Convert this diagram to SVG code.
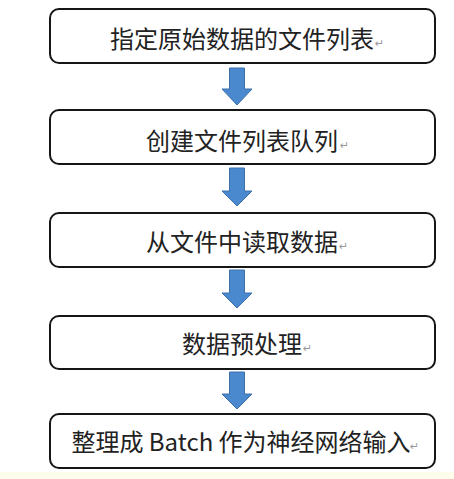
<svg xmlns="http://www.w3.org/2000/svg" width="454" height="479" viewBox="0 0 454 479">
  <style>
    .box { fill: #ffffff; stroke: #161616; stroke-width: 2; }
    .lbl { font-family: "Noto Sans CJK SC", "Noto Sans", sans-serif; font-size: 24px; fill: #222222; text-anchor: middle; }
    .mark { font-family: "DejaVu Sans", sans-serif; font-size: 11px; fill: #9a9a9a; }
    .arrow { fill: #4a89cd; stroke: #3b70ad; stroke-width: 1; }
  </style>
  <rect x="0" y="0" width="454" height="479" fill="#ffffff"/>
  <rect x="0" y="472" width="454" height="7" fill="#fffdeb"/>
  <g id="connectors">
    <path class="arrow" d="M229.5,68 H244.5 V89 H252 L237,105 L222,89 H229.5 Z"/>
    <path class="arrow" d="M229.5,168 H244.5 V191 H252 L237,206 L222,191 H229.5 Z"/>
    <path class="arrow" d="M229.5,270 H244.5 V293 H252 L237,308 L222,293 H229.5 Z"/>
    <path class="arrow" d="M229.5,372 H244.5 V394 H252 L237,409 L222,394 H229.5 Z"/>
  </g>
  <g id="node1">
    <rect class="box" x="50" y="9" width="385" height="54" rx="9"/>
    <text class="lbl" x="242" y="48">指定原始数据的文件列表</text>
    <text class="mark" x="375" y="47">↵</text>
  </g>
  <g id="node2">
    <rect class="box" x="50" y="110" width="385" height="54" rx="9"/>
    <text class="lbl" x="242" y="150">创建文件列表队列</text>
    <text class="mark" x="340" y="149">↵</text>
  </g>
  <g id="node3">
    <rect class="box" x="50" y="213" width="385" height="54" rx="9"/>
    <text class="lbl" x="242" y="251">从文件中读取数据</text>
    <text class="mark" x="339" y="250">↵</text>
  </g>
  <g id="node4">
    <rect class="box" x="50" y="316" width="385" height="53" rx="9"/>
    <text class="lbl" x="242" y="353">数据预处理</text>
    <text class="mark" x="303" y="352">↵</text>
  </g>
  <g id="node5">
    <rect class="box" x="50" y="414" width="385" height="54" rx="9"/>
    <text class="lbl" x="241" y="451">整理成 Batch 作为神经网络输入</text>
    <text class="mark" x="410" y="450">↵</text>
  </g>
</svg>
